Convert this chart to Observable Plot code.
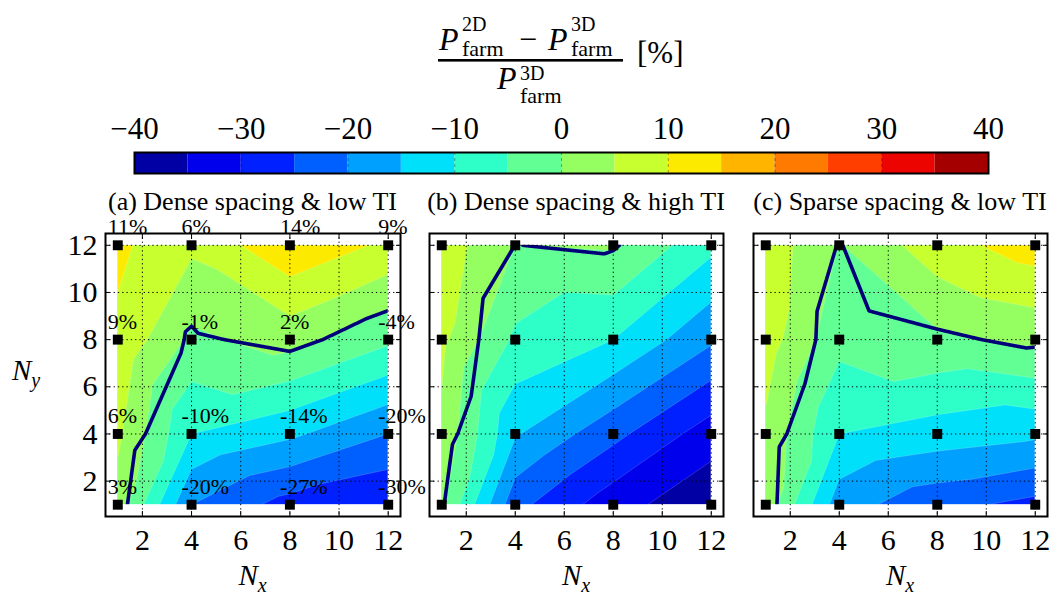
<!DOCTYPE html>
<html>
<head>
<meta charset="utf-8">
<script src="https://cdn.jsdelivr.net/npm/d3@7"></script>
<script src="https://cdn.jsdelivr.net/npm/@observablehq/plot@0.6"></script>
<style>
  html, body { margin: 0; padding: 0; background: #fff; width: 1055px; height: 596px; overflow: hidden; }
  #root { position: relative; width: 1055px; height: 596px; font-family: "Liberation Serif", "DejaVu Serif", serif; }
  #root svg { overflow: visible; }
</style>
</head>
<body>
<div id="root"></div>
<script>
// ---------------- data ----------------
const nx = [1, 4, 8, 12];
const ny = [1, 4, 8, 12];
// rows follow ny (1, 4, 8, 12), columns follow nx (1, 4, 8, 12); values in %
const diffA = [
  [3, -20, -27, -30],
  [6, -10, -14, -20],
  [9, -1, 2, -4],
  [11, 6, 14, 9]
];
const diffB = [
  [0.8, -23.4, -33, -38.7],
  [4, -14.5, -23.5, -32.7],
  [6.1, -6, -10, -19.2],
  [7.7, -0.05, 0.6, -8.7]
];
const diffC = [
  [3.2, -17.8, -23.4, -26.5],
  [4, -10, -12.3, -14],
  [7.5, -3.5, -1, 1.2],
  [8.1, -0.3, 8, 12.5]
];
const panelTitles = ["(a) Dense spacing & low TI", "(b) Dense spacing & high TI", "(c) Sparse spacing & low TI"];
const levels = [-40, -35, -30, -25, -20, -15, -10, -5, 0, 5, 10, 15, 20, 25, 30, 35, 40];
const levelColors = ["#0000a4", "#0000ec", "#0020ff", "#0060ff", "#00a0ff", "#00e0fb", "#2effc8", "#62ff95",
                     "#95ff62", "#c8ff2e", "#fcea00", "#ffb500", "#ff7a00", "#ff3e00", "#ec0400", "#a40000"];
const cbTicks = [-40, -30, -20, -10, 0, 10, 20, 30, 40];
const axisTicks = [2, 4, 6, 8, 10, 12];
const axisDomain = [0.5, 12.5];
const zeroLevel = [0];

// ---------------- helpers ----------------
const root = document.getElementById("root");
const FONT = "'Liberation Serif', 'DejaVu Serif', serif";
const colorScale = {type: "threshold", domain: levels.slice(1, -1), range: levelColors};

function place(node, left, top) {
  const wrap = document.createElement("div");
  wrap.style.cssText = `position:absolute;left:${left}px;top:${top}px;`;
  wrap.appendChild(node);
  root.appendChild(wrap);
}

function points(grid) {
  const pts = [];
  ny.forEach((yv, i) => nx.forEach((xv, j) => pts.push({x: xv, y: yv, v: grid[i][j]})));
  return pts;
}

// Linear interpolation over a triangulation of the sample grid (alternating diagonals,
// like the reference's triangulated contouring); positions outside the grid take the
// value of the nearest grid edge.
function gridTriangles(index, width, height, X, Y, V) {
  const xs = Array.from(new Set(Array.from(index, (i) => X[i]))).sort((a, b) => a - b);
  const ys = Array.from(new Set(Array.from(index, (i) => Y[i]))).sort((a, b) => a - b);
  const vals = new Map();
  for (const i of index) vals.set(`${X[i]}|${Y[i]}`, V[i]);
  const at = (a, b) => vals.get(`${xs[a]}|${ys[b]}`);
  const nC = xs.length - 1, nR = ys.length - 1;
  const W = new Float64Array(width * height);
  for (let r = 0; r < height; ++r) {
    const py = Math.max(ys[0], Math.min(ys[nR], r + 0.5));
    const jp = Math.max(0, Math.min(nR - 1, d3.bisectRight(ys, py) - 1));
    const w = (py - ys[jp]) / (ys[jp + 1] - ys[jp]);
    const jData = nR - 1 - jp;
    for (let c = 0; c < width; ++c) {
      const px = Math.max(xs[0], Math.min(xs[nC], c + 0.5));
      const i = Math.max(0, Math.min(nC - 1, d3.bisectRight(xs, px) - 1));
      const u = (px - xs[i]) / (xs[i + 1] - xs[i]);
      const vTL = at(i, jp), vTR = at(i + 1, jp), vBL = at(i, jp + 1), vBR = at(i + 1, jp + 1);
      let v;
      if ((i + jData) % 2 === 0) {
        v = u >= w ? vTL + u * (vTR - vTL) + w * (vBR - vTR) : vTL + w * (vBL - vTL) + u * (vBR - vBL);
      } else {
        v = u + w <= 1 ? vTL + u * (vTR - vTL) + w * (vBL - vTL) : vBR + (1 - u) * (vBL - vBR) + (1 - w) * (vTR - vBR);
      }
      W[r * width + c] = v;
    }
  }
  return W;
}

const [xMin, xMax] = d3.extent(nx);
const [yMin, yMax] = d3.extent(ny);
const [d0, d1] = axisDomain;
const outsideHull = [
  {x1: d0, x2: xMin, y1: d0, y2: d1},
  {x1: xMax, x2: d1, y1: d0, y2: d1},
  {x1: d0, x2: d1, y1: d0, y2: yMin},
  {x1: d0, x2: d1, y1: yMax, y2: d1}
];

const layout = [
  {left: 0,   mL: 105, fw: 295, mR: 20, yLabels: true,  values: true},
  {left: 409, mL: 20,  fw: 294, mR: 20, yLabels: false, values: false},
  {left: 733, mL: 20,  fw: 294, mR: 8,  yLabels: false, values: false}
];
const grids = [diffA, diffB, diffC];

grids.forEach((grid, k) => {
  const L = layout[k];
  const pts = points(grid);
  const grid_style = {stroke: "black", strokeOpacity: 1, strokeWidth: 1, strokeDasharray: "1.3,3"};
  const marks = [
    Plot.contour(pts, {x: "x", y: "y", fill: "v", thresholds: levels.slice(0, -1), interpolate: gridTriangles,
      x1: xMin, x2: xMax, y1: yMin, y2: yMax, pixelSize: 0.5,
      stroke: "white", strokeOpacity: 0.3, strokeWidth: 0.6}),
    Plot.contour(pts, {x: "x", y: "y", value: "v", thresholds: zeroLevel, interpolate: gridTriangles,
      fill: "none", stroke: "#00007a", strokeWidth: 3.6, strokeLinejoin: "round", pixelSize: 0.5, clip: true}),
    Plot.rect(outsideHull, {x1: "x1", x2: "x2", y1: "y1", y2: "y2", fill: "white"}),
    Plot.gridX(axisTicks, grid_style),
    Plot.gridY(axisTicks, grid_style),
    Plot.axisX(axisTicks, {anchor: "bottom", tickSize: -5, tickPadding: 17, fontSize: 30, label: null}),
    Plot.axisX(axisTicks, {anchor: "top", tickSize: -5, tickFormat: () => "", label: null}),
    Plot.axisY(axisTicks, {anchor: "left", tickSize: -5, tickPadding: 13, fontSize: 30, label: null,
      tickFormat: L.yLabels ? (d) => String(d) : () => ""}),
    Plot.axisY(axisTicks, {anchor: "right", tickSize: -5, tickFormat: () => "", label: null}),
    Plot.frame({stroke: "black", strokeWidth: 2}),
    Plot.dot(pts, {x: "x", y: "y", symbol: "square", r: 5.6, fill: "black", stroke: null})
  ];
  if (L.values) {
    marks.push(Plot.text(pts, {x: "x", y: "y", text: (d) => `${d.v}%`, textAnchor: "start", lineAnchor: "bottom",
      dx: -10, dy: -11, fontSize: 22, fill: "black"}));
  }
  const chart = Plot.plot({
    width: L.mL + L.fw + L.mR,
    height: 411,
    marginLeft: L.mL, marginRight: L.mR, marginTop: 48, marginBottom: 80,
    x: {domain: axisDomain, label: null},
    y: {domain: axisDomain, label: null},
    color: colorScale,
    style: {fontFamily: FONT, fontSize: "30px", background: "none", overflow: "visible", color: "black"},
    marks
  });
  place(chart, L.left, 185);
});

// ---------------- colour bar ----------------
const cbBins = d3.pairs(levels).map(([a, b]) => ({a, b}));
const bar = Plot.plot({
  width: 1055, height: 85,
  marginLeft: 134, marginRight: 67, marginTop: 52, marginBottom: 12,
  x: {domain: d3.extent(levels), label: null},
  color: colorScale,
  style: {fontFamily: FONT, fontSize: "31px", background: "none", overflow: "visible", color: "black"},
  marks: [
    Plot.rect(cbBins, {x1: "a", x2: "b", fill: "a"}),
    Plot.ruleX(cbTicks.slice(1, -1), {stroke: "black", strokeOpacity: 0.45, strokeWidth: 0.8, strokeDasharray: "3,3"}),
    Plot.frame({stroke: "black", strokeWidth: 2}),
    Plot.axisX(cbTicks, {anchor: "top", tickSize: 0, tickPadding: 14, fontSize: 31, label: null,
      tickFormat: (d) => (d < 0 ? "\u2212" : "") + Math.abs(d)})
  ]
});
place(bar, 0, 100);

// ---------------- text overlay (titles, axis labels, colour bar label) ----------------
const NS = "http://www.w3.org/2000/svg";
const ov = document.createElementNS(NS, "svg");
ov.setAttribute("width", 1055);
ov.setAttribute("height", 596);
ov.style.cssText = "position:absolute;left:0;top:0;pointer-events:none;";
ov.setAttribute("font-family", FONT);
function richText(x, y, parts, anchor) {
  const t = document.createElementNS(NS, "text");
  t.setAttribute("x", x); t.setAttribute("y", y);
  if (anchor) t.setAttribute("text-anchor", anchor);
  for (const p of parts) {
    const s = document.createElementNS(NS, "tspan");
    s.textContent = p.s;
    s.setAttribute("font-size", p.size);
    if (p.italic) s.setAttribute("font-style", "italic");
    if (p.x != null) s.setAttribute("x", p.x);
    if (p.y != null) s.setAttribute("y", p.y);
    if (p.dy != null) s.setAttribute("dy", p.dy);
    t.appendChild(s);
  }
  ov.appendChild(t);
  return t;
}
// fraction label
richText(439, 50, [
  {s: "P", size: 32, italic: true},
  {s: "2D", size: 20, x: 462, y: 31},
  {s: "farm", size: 22, x: 462, y: 55.5},
  {s: "\u2212", size: 32, x: 519, y: 50},
  {s: "P", size: 32, italic: true, x: 548, y: 50},
  {s: "3D", size: 20, x: 571, y: 31},
  {s: "farm", size: 22, x: 571, y: 55.5}
]);
const fracBar = document.createElementNS(NS, "rect");
fracBar.setAttribute("x", 438); fracBar.setAttribute("y", 59);
fracBar.setAttribute("width", 185); fracBar.setAttribute("height", 2.6);
ov.appendChild(fracBar);
richText(497, 89, [
  {s: "P", size: 32, italic: true},
  {s: "3D", size: 20, x: 520, y: 80},
  {s: "farm", size: 22, x: 520, y: 102.5}
]);
richText(637, 63, [{s: "[%]", size: 31}]);

// panel titles and axis labels
layout.forEach((L, k) => {
  const cx = L.left + L.mL + L.fw / 2;
  richText(cx, 210, [{s: panelTitles[k], size: 26}], "middle");
  richText(cx, 585, [{s: "N", size: 29, italic: true}, {s: "x", size: 20, italic: true, dy: 7}], "middle");
});
richText(12, 380, [{s: "N", size: 29, italic: true}, {s: "y", size: 20, italic: true, dy: 7}]);
root.appendChild(ov);
</script>
</body>
</html>
